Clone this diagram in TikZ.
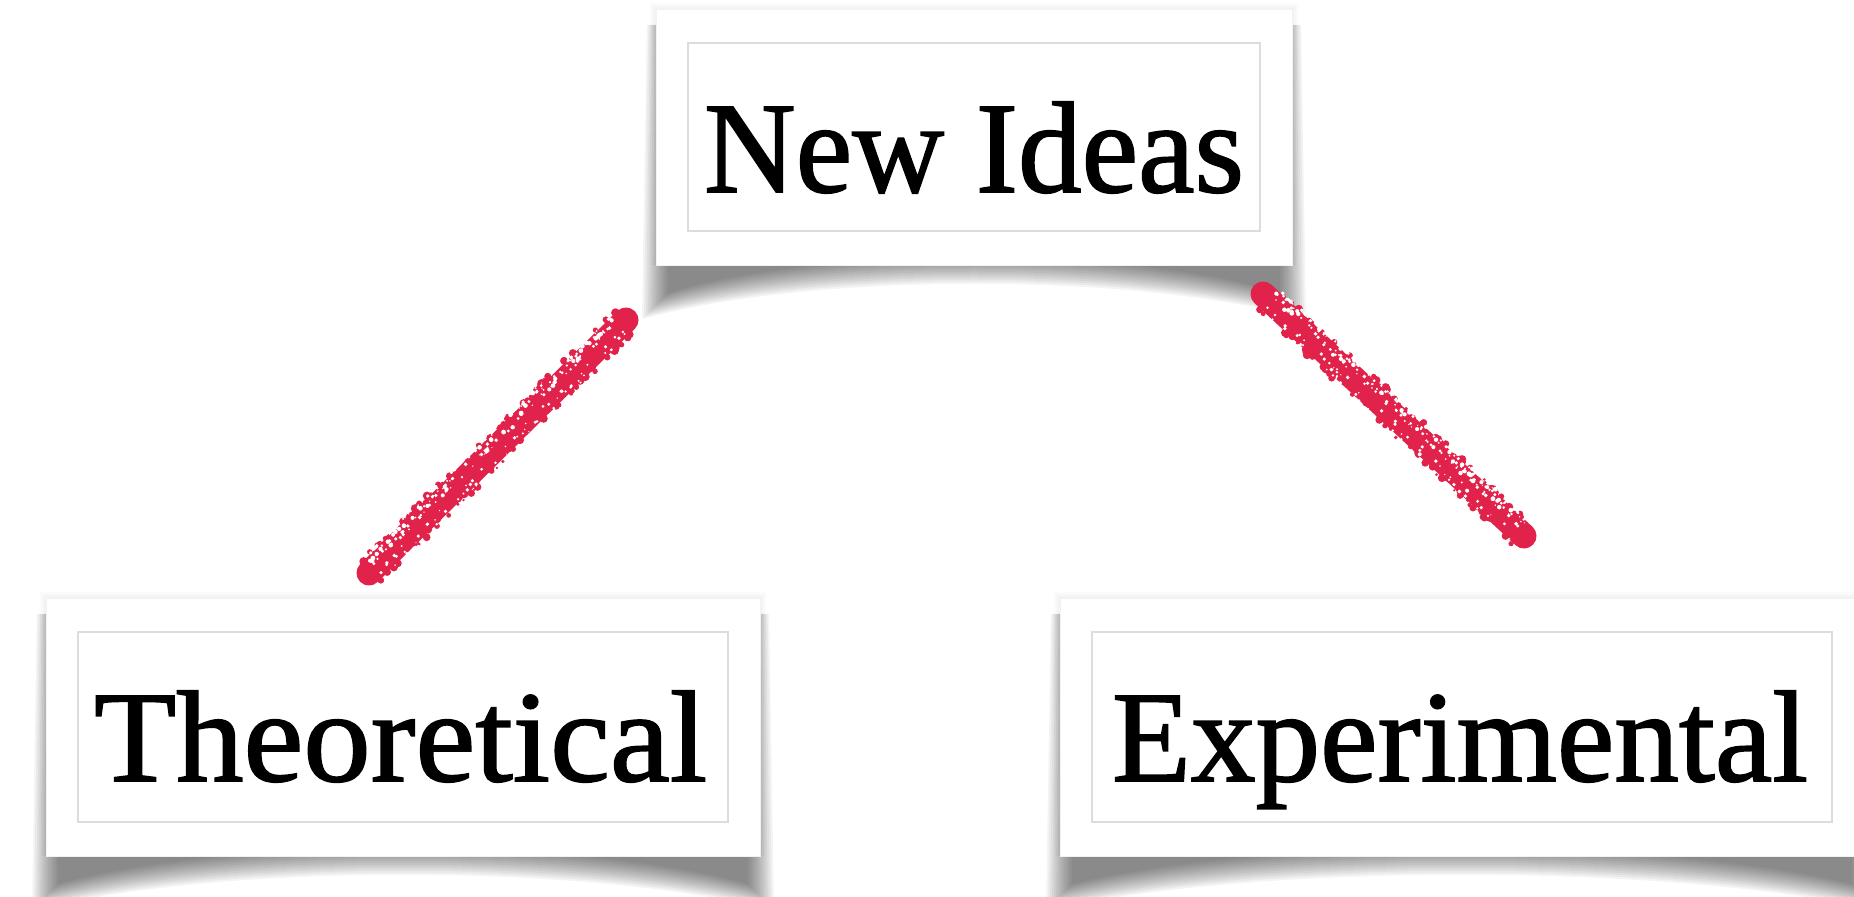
\documentclass[tikz,border=0pt]{standalone}
\usepackage{fontspec}
\usepackage{graphicx}
\setmainfont[FakeBold=1.3]{Liberation Serif}
\usetikzlibrary{calc,fit}

\definecolor{chalkred}{RGB}{225,34,74}
\definecolor{framegray}{RGB}{220,220,220}

\tikzset{
  card/.style={fill=white, draw=black!5, line width=0.4pt, inner sep=0pt, outer sep=0pt},
  frame/.style={draw=framegray, line width=0.9pt, inner sep=0pt, outer sep=0pt},
  caption/.style={anchor=base, inner sep=0pt, font=\fontsize{65}{70}\selectfont},
}

% a lifted paper card: curled shadow, white sheet and a thin inner frame
% #1 name, #2..#5 = left, top, right, bottom (pixel units, y pointing down)
\newcommand\papercard[5]{%
  \pgfmathsetmacro\cw{#4-#2}%
  \foreach \g in {-12,-10,...,14}{%
    \fill[black,opacity=0.045]
      ({#2+2-0.8*\g}, {#3+16}) -- ({#2-\g}, {#5+40+\g})
      .. controls ({#2+0.25*\cw}, {#5-7+\g}) and ({#4-0.25*\cw}, {#5-7+\g}) ..
      ({#4+\g}, {#5+40+\g}) -- ({#4-2+0.8*\g}, {#3+16}) -- cycle;
  }%
  \foreach \g in {2,4,6}{%
    \fill[black,opacity=0.016] ({#2-\g},{#3-\g}) rectangle ({#4+\g},#5);
  }%
  \node[card, fit={(#2,#3) (#4,#5)}] (#1) {};
  \node[frame, fit={({#2+32},{#3+34}) ({#4-32},{#5-34})}] (#1-frame) {};
}

% a rough crayon stroke between two named coordinates
\newcommand\chalkline[2]{%
  \draw[chalkred, line width=12.5pt, line cap=round] (#1) -- (#2);
  \foreach \i in {1,...,400}{%
    \pgfmathsetmacro\t{0.005+0.99*rnd}%
    \pgfmathsetmacro\o{(rnd-0.5)*15}%
    \pgfmathsetmacro\r{0.6+1.6*rnd}%
    \fill[chalkred] ($(#1)!\t!(#2)!\o pt!90:(#2)$) circle (\r pt);
  }%
  \foreach \i in {1,...,200}{%
    \pgfmathsetmacro\t{0.02+0.96*rnd}%
    \pgfmathsetmacro\o{1.5+6*rnd}%
    \pgfmathsetmacro\r{0.3+0.9*rnd}%
    \fill[white] ($(#1)!\t!(#2)!\o pt!90:(#2)$) circle (\r pt);
  }%
  \foreach \i in {1,...,60}{%
    \pgfmathsetmacro\t{0.02+0.96*rnd}%
    \pgfmathsetmacro\o{-1.5-5*rnd}%
    \pgfmathsetmacro\r{0.3+0.7*rnd}%
    \fill[white] ($(#1)!\t!(#2)!\o pt!90:(#2)$) circle (\r pt);
  }%
}

\begin{document}
\begin{tikzpicture}[x=0.5pt, y=-0.5pt]
  \useasboundingbox (0,0) rectangle (1854,897);
  \pgfmathsetseed{4711}

  % the three cards
  \papercard{ideas}{656}{9}{1292}{265}
  \papercard{theo}{46}{598}{760}{856}
  \papercard{expt}{1060}{598}{1864}{856}

  % captions
  \node[caption] (ideas-text) at (974,192) {\resizebox{270pt}{\height}{New Ideas}};
  \node[caption] (theo-text) at (400.5,781) {\resizebox{306.5pt}{\height}{Theoretical}};
  \node[caption] (expt-text) at (1460,781) {\resizebox{348pt}{\height}{Experimental}};

  % crayon links between the cards
  \coordinate (theo-end)  at (369,573);
  \coordinate (ideas-l)   at (626,320);
  \coordinate (ideas-r)   at (1263,294);
  \coordinate (expt-end)  at (1524,536);
  \chalkline{theo-end}{ideas-l}
  \chalkline{ideas-r}{expt-end}
\end{tikzpicture}
\end{document}
